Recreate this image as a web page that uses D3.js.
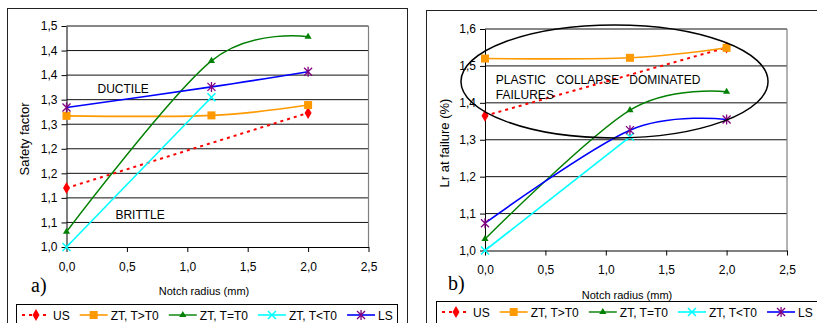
<!DOCTYPE html>
<html>
<head>
<meta charset="utf-8">
<script src="https://cdn.jsdelivr.net/npm/d3@7"></script>
<style>
  body { margin: 0; background: #fff; }
  text { font-family: "Liberation Sans", Arial, sans-serif; fill: #000; }
</style>
</head>
<body>
<div id="chart"></div>
<script>
// Series names (legend order)
const seriesNames = ['US', 'ZT, T>T0', 'ZT, T=T0', 'ZT, T<T0', 'LS']

// Notch radius (mm) for each series
const radiusUS = [0.0, 2.0]
const radiusZTabove = [0.0, 1.2, 2.0]
const radiusZTequal = [0.0, 1.2, 2.0]
const radiusZTbelow = [0.0, 1.2]
const radiusLS = [0.0, 1.2, 2.0]

// a) Safety factor
const safetyUS = [1.12, 1.273]
const safetyZTabove = [1.267, 1.268, 1.289]
const safetyZTequal = [1.031, 1.379, 1.428]
const safetyZTbelow = [1.0, 1.305]
const safetyLS = [1.284, 1.326, 1.357]

// b) Lr at failure
const lrUS = [1.365, 1.55]
const lrZTabove = [1.52, 1.522, 1.549]
const lrZTequal = [1.031, 1.38, 1.43]
const lrZTbelow = [1.0, 1.308]
const lrLS = [1.074, 1.326, 1.355]

// Tick values and labels
const radiusTicks = [0, 0.5, 1.0, 1.5, 2.0, 2.5]
const radiusTickLabels = ['0,0', '0,5', '1,0', '1,5', '2,0', '2,5']
const safetyTicks = [1.00, 1.05, 1.10, 1.15, 1.20, 1.25, 1.30, 1.35, 1.40, 1.45]
const safetyTickLabels = ['1,0', '1,1', '1,1', '1,2', '1,2', '1,3', '1,3', '1,4', '1,4', '1,5']
const lrTicks = [1.0, 1.1, 1.2, 1.3, 1.4, 1.5, 1.6]
const lrTickLabels = ['1,0', '1,1', '1,2', '1,3', '1,4', '1,5', '1,6']

// Line / marker styles per series
const styles = [
  { line: '#ff0000', marker: '#ff0000', shape: 'diamond', dash: '3,4', width: 2 },
  { line: '#ff9900', marker: '#ff9900', shape: 'square', dash: null, width: 1.6 },
  { line: '#008000', marker: '#008000', shape: 'triangle', dash: null, width: 1.4 },
  { line: '#00ffff', marker: '#00ffff', shape: 'cross', dash: null, width: 1.6 },
  { line: '#0000ff', marker: '#800080', shape: 'asterisk', dash: null, width: 1.6 }
]

const W = 817, H = 323

const svg = d3.select('#chart')
  .append('svg')
  .attr('width', W)
  .attr('height', H)
  .attr('viewBox', [0, 0, W, H])

// draw a marker at (cx, cy)
function drawMarker(g, shape, color, cx, cy) {
  if (shape === 'diamond') {
    g.append('path')
      .attr('d', d3.symbol(d3.symbolDiamond, 42)())
      .attr('transform', `translate(${cx},${cy})`)
      .attr('fill', color)
  } else if (shape === 'square') {
    g.append('rect')
      .attr('x', cx - 4).attr('y', cy - 4)
      .attr('width', 8).attr('height', 8)
      .attr('fill', color)
  } else if (shape === 'triangle') {
    g.append('path')
      .attr('d', d3.symbol(d3.symbolTriangle, 22)())
      .attr('transform', `translate(${cx},${cy})`)
      .attr('fill', color)
  } else if (shape === 'cross') {
    g.append('path')
      .attr('d', `M${cx - 4},${cy - 4}L${cx + 4},${cy + 4}M${cx - 4},${cy + 4}L${cx + 4},${cy - 4}`)
      .attr('stroke', color).attr('stroke-width', 1.5).attr('fill', 'none')
  } else if (shape === 'asterisk') {
    g.append('path')
      .attr('d', `M${cx - 4},${cy - 4}L${cx + 4},${cy + 4}M${cx - 4},${cy + 4}L${cx + 4},${cy - 4}M${cx},${cy - 5}L${cx},${cy + 5}`)
      .attr('stroke', color).attr('stroke-width', 1.3).attr('fill', 'none')
  }
}

function drawPanel(p) {
  const g = svg.append('g')

  // outer chart frame
  g.append('rect')
    .attr('x', p.frame.x).attr('y', p.frame.y)
    .attr('width', p.frame.w).attr('height', p.frame.h)
    .attr('fill', 'none').attr('stroke', '#222').attr('stroke-width', 1)

  const x = d3.scaleLinear().domain([0, 2.5]).range([p.left, p.left + p.width])
  const y = d3.scaleLinear().domain([p.ticks[0], p.ticks[p.ticks.length - 1]])
    .range([p.top + p.height, p.top])

  // horizontal gridlines
  g.append('g')
    .selectAll('line')
    .data(p.ticks.slice(1))
    .join('line')
    .attr('x1', p.left).attr('x2', p.left + p.width)
    .attr('y1', d => y(d)).attr('y2', d => y(d))
    .attr('stroke', '#111').attr('stroke-width', 1)

  // right border of the plot area
  g.append('line')
    .attr('x1', p.left + p.width).attr('x2', p.left + p.width)
    .attr('y1', p.top).attr('y2', p.top + p.height)
    .attr('stroke', '#808080').attr('stroke-width', 1.2)

  // Y axis
  g.append('g')
    .attr('transform', `translate(${p.left},0)`)
    .call(d3.axisLeft(y)
      .tickValues(p.ticks)
      .tickFormat((d, i) => p.tickLabels[i])
      .tickSize(5).tickSizeOuter(0).tickPadding(4))
    .call(a => a.select('.domain').attr('stroke', '#000'))
    .call(a => a.selectAll('.tick text').attr('font-size', 12)
      .attr('font-family', '"Liberation Sans", Arial, sans-serif'))

  // X axis
  g.append('g')
    .attr('transform', `translate(0,${p.top + p.height})`)
    .call(d3.axisBottom(x)
      .tickValues(radiusTicks)
      .tickFormat((d, i) => radiusTickLabels[i])
      .tickSize(5).tickSizeOuter(0).tickPadding(10))
    .call(a => a.select('.domain').attr('stroke', '#000'))
    .call(a => a.selectAll('.tick text').attr('font-size', 12)
      .attr('font-family', '"Liberation Sans", Arial, sans-serif'))

  // axis titles
  g.append('text')
    .attr('x', p.xTitleX).attr('y', p.top + p.height + 48)
    .attr('text-anchor', 'middle')
    .attr('font-size', 11)
    .text('Notch radius (mm)')

  g.append('text')
    .attr('transform', `translate(${p.yTitleX},${p.yTitleY}) rotate(-90)`)
    .attr('text-anchor', 'middle')
    .attr('font-size', 13)
    .text(p.yTitle)

  // panel letter
  g.append('text')
    .attr('x', p.letterX).attr('y', p.letterY)
    .attr('font-size', 20)
    .style('font-family', '"Liberation Serif", "Times New Roman", serif')
    .text(p.letter)

  // series lines
  const line = d3.line()
    .x(d => x(d[0]))
    .y(d => y(d[1]))
    .curve(d3.curveCardinal)

  p.series.forEach((s, i) => {
    const st = styles[i]
    const pts = s.x.map((v, j) => [v, s.y[j]])
    g.append('path')
      .datum(pts)
      .attr('fill', 'none')
      .attr('stroke', st.line)
      .attr('stroke-width', st.width)
      .attr('stroke-dasharray', st.dash)
      .attr('d', line)
    pts.forEach(d => drawMarker(g, st.shape, st.marker, x(d[0]), y(d[1])))
  })

  // annotations
  p.notes.forEach(n => {
    const t = g.append('text')
      .attr('x', x(n.x)).attr('y', y(n.y))
      .attr('font-size', 12)
      .style('white-space', 'pre')
      .text(n.text)
  })

  if (p.ellipse) {
    const e = p.ellipse
    g.append('ellipse')
      .attr('cx', x(e.cx)).attr('cy', y(e.cy))
      .attr('rx', x(e.rx) - x(0)).attr('ry', y(0) - y(e.ry))
      .attr('fill', 'none').attr('stroke', '#000').attr('stroke-width', 1.5)
  }

  // legend
  const lg = g.append('g')
  lg.append('rect')
    .attr('x', p.legend.x).attr('y', p.legend.y)
    .attr('width', p.legend.w).attr('height', 40)
    .attr('fill', '#fff').attr('stroke', '#000').attr('stroke-width', 1)
  const cy = p.legend.y + 10.5
  let cx = p.legend.x + 5.5
  seriesNames.forEach((name, i) => {
    const st = styles[i]
    lg.append('line')
      .attr('x1', cx).attr('x2', cx + 28)
      .attr('y1', cy).attr('y2', cy)
      .attr('stroke', st.line).attr('stroke-width', st.width)
      .attr('stroke-dasharray', st.dash)
    drawMarker(lg, st.shape, st.marker, cx + 14, cy)
    const t = lg.append('text')
      .attr('x', cx + 31).attr('y', cy + 4.5)
      .attr('font-size', 12)
      .text(name)
    cx += 31 + t.node().getComputedTextLength() + 10
  })
}

drawPanel({
  frame: { x: 7.5, y: 8.5, w: 400, h: 340 },
  left: 66.5, top: 26, width: 302, height: 221,
  ticks: safetyTicks, tickLabels: safetyTickLabels,
  yTitle: 'Safety factor', yTitleX: 29, yTitleY: 139,
  xTitleX: 204,
  letter: 'a)', letterX: 31, letterY: 292,
  legend: { x: 16.5, y: 304.5, w: 381 },
  series: [
    { x: radiusUS, y: safetyUS },
    { x: radiusZTabove, y: safetyZTabove },
    { x: radiusZTequal, y: safetyZTequal },
    { x: radiusZTbelow, y: safetyZTbelow },
    { x: radiusLS, y: safetyLS }
  ],
  notes: [
    { text: 'DUCTILE', x: 0.257, y: 1.313 },
    { text: 'BRITTLE', x: 0.405, y: 1.057 }
  ],
  ellipse: null
})

drawPanel({
  frame: { x: 426.5, y: 10.5, w: 420, h: 340 },
  left: 485, top: 29, width: 302, height: 221.5,
  ticks: lrTicks, tickLabels: lrTickLabels,
  yTitle: 'Lr at failure (%)', yTitleX: 449, yTitleY: 143,
  xTitleX: 627,
  letter: 'b)', letterX: 448, letterY: 290,
  legend: { x: 436.5, y: 301.5, w: 400 },
  series: [
    { x: radiusUS, y: lrUS },
    { x: radiusZTabove, y: lrZTabove },
    { x: radiusZTequal, y: lrZTequal },
    { x: radiusZTbelow, y: lrZTbelow },
    { x: radiusLS, y: lrLS }
  ],
  notes: [
    { text: 'PLASTIC   COLLAPSE   DOMINATED', x: 0.09, y: 1.451 },
    { text: 'FAILURES', x: 0.09, y: 1.41 }
  ],
  ellipse: { cx: 1.072, cy: 1.458, rx: 1.271, ry: 0.153 }
})
</script>
</body>
</html>
